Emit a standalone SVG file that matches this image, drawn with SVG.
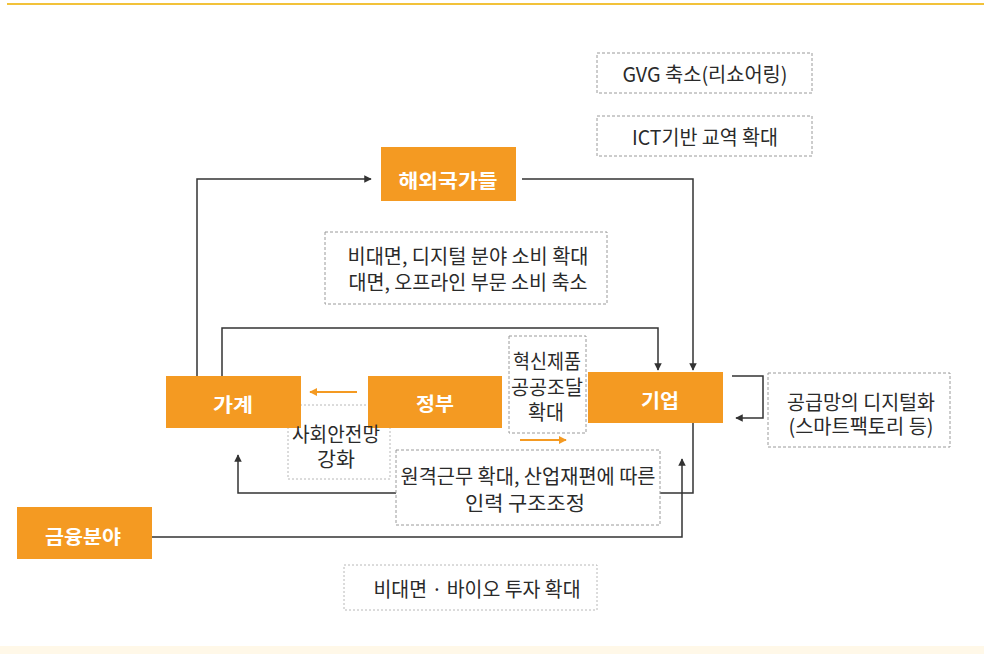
<svg xmlns="http://www.w3.org/2000/svg" width="984" height="654" viewBox="0 0 984 654">
  <style>
    .node rect { fill: #F49A22; }
    .node text { fill: #FFFFFF; font-family: "Noto Sans CJK KR", "Noto Sans", sans-serif; font-size: 19px; font-weight: bold; text-anchor: middle; dominant-baseline: central; }
    .box { fill: #FFFFFF; stroke: #9A9A9A; stroke-width: 1; stroke-dasharray: 3 2; }
    .box-light { fill: #FFFFFF; stroke: #B8B8B8; stroke-width: 1; stroke-dasharray: 2 2; }
    .lbl { fill: #2A2A2A; font-family: "Noto Sans CJK KR", "Noto Sans", sans-serif; font-size: 20px; text-anchor: middle; dominant-baseline: central; }
    .conn { fill: none; stroke: #333333; stroke-width: 1.5; }
    .conn-o { fill: none; stroke: #F49A22; stroke-width: 2; }
  </style>
  <defs>
    <marker id="ah" viewBox="0 0 10 10" refX="9" refY="5" markerWidth="5" markerHeight="5" orient="auto" markerUnits="strokeWidth">
      <path d="M0,0 L10,5 L0,10 z" fill="#333333"/>
    </marker>
    <marker id="aho" viewBox="0 0 10 10" refX="9" refY="5" markerWidth="4" markerHeight="4" orient="auto" markerUnits="strokeWidth">
      <path d="M0,0 L10,5 L0,10 z" fill="#F49A22"/>
    </marker>
  </defs>

  <rect x="0" y="0" width="984" height="654" fill="#FFFFFF"/>
  <line x1="7" y1="4" x2="984" y2="4" stroke="#F2C23A" stroke-width="2"/>
  <rect x="0" y="646" width="984" height="8" fill="#FFF8E8"/>

  <!-- background label box (social safety net) -->
  <g id="box-safety">
    <rect class="box-light" x="288" y="405" width="102" height="74"/>
  </g>

  <!-- connectors -->
  <g id="connectors">
    <path class="conn" d="M197,376 V179 H371" marker-end="url(#ah)"/>
    <path class="conn" d="M522,179 H693 V370" marker-end="url(#ah)"/>
    <path class="conn" d="M222,376 V328 H658 V370" marker-end="url(#ah)"/>
    <path class="conn" d="M732,376 H763 V418 H736" marker-end="url(#ah)"/>
    <path class="conn" d="M693,423 V493 H238 V455" marker-end="url(#ah)"/>
    <path class="conn" d="M151,537 H682 V459" marker-end="url(#ah)"/>
    <path class="conn-o" d="M357,392 H310" marker-end="url(#aho)"/>
    <path class="conn-o" d="M520,440 H566" marker-end="url(#aho)"/>
  </g>

  <!-- nodes -->
  <g id="node-overseas" class="node">
    <rect x="381" y="147" width="135" height="54"/>
    <text x="448" y="179" textLength="99" lengthAdjust="spacingAndGlyphs">해외국가들</text>
  </g>
  <g id="node-household" class="node">
    <rect x="166" y="376" width="135" height="52"/>
    <text x="233" y="403" textLength="40" lengthAdjust="spacingAndGlyphs">가계</text>
  </g>
  <g id="node-government" class="node">
    <rect x="368" y="376" width="134" height="52"/>
    <text x="435" y="402" textLength="38" lengthAdjust="spacingAndGlyphs">정부</text>
  </g>
  <g id="node-firm" class="node">
    <rect x="588" y="372" width="135" height="51"/>
    <text x="660" y="399" textLength="38" lengthAdjust="spacingAndGlyphs">기업</text>
  </g>
  <g id="node-finance" class="node">
    <rect x="17" y="507" width="135" height="52"/>
    <text x="83" y="535" textLength="76" lengthAdjust="spacingAndGlyphs">금융분야</text>
  </g>

  <!-- label boxes -->
  <g id="box-gvg">
    <rect class="box" x="597" y="53" width="215" height="40"/>
    <text class="lbl" x="705" y="73" textLength="165" lengthAdjust="spacingAndGlyphs">GVG 축소(리쇼어링)</text>
  </g>
  <g id="box-ict">
    <rect class="box" x="597" y="116" width="215" height="40"/>
    <text class="lbl" x="705" y="136" textLength="146" lengthAdjust="spacingAndGlyphs">ICT기반 교역 확대</text>
  </g>
  <g id="box-consumption">
    <rect class="box" x="325" y="232" width="282" height="72"/>
    <text class="lbl" x="468" y="255" textLength="241" lengthAdjust="spacingAndGlyphs">비대면, 디지털 분야 소비 확대</text>
    <text class="lbl" x="468" y="281" textLength="239" lengthAdjust="spacingAndGlyphs">대면, 오프라인 부문 소비 축소</text>
  </g>
  <g id="box-procurement">
    <rect class="box" x="509" y="336" width="77" height="97"/>
    <text class="lbl" x="547" y="360" textLength="68" lengthAdjust="spacingAndGlyphs">혁신제품</text>
    <text class="lbl" x="547" y="386" textLength="72" lengthAdjust="spacingAndGlyphs">공공조달</text>
    <text class="lbl" x="546" y="411" textLength="36" lengthAdjust="spacingAndGlyphs">확대</text>
  </g>
  <g id="box-supply">
    <rect class="box" x="768" y="373" width="182" height="74"/>
    <text class="lbl" x="861" y="401" textLength="148" lengthAdjust="spacingAndGlyphs">공급망의 디지털화</text>
    <text class="lbl" x="861" y="425" textLength="145" lengthAdjust="spacingAndGlyphs">(스마트팩토리 등)</text>
  </g>
  <g id="box-safety-text">
    <text class="lbl" x="336" y="433" textLength="88" lengthAdjust="spacingAndGlyphs">사회안전망</text>
    <text class="lbl" x="336" y="458" textLength="38" lengthAdjust="spacingAndGlyphs">강화</text>
  </g>
  <g id="box-remote">
    <rect class="box" x="396" y="450" width="264" height="75"/>
    <text class="lbl" x="528" y="475" textLength="255" lengthAdjust="spacingAndGlyphs">원격근무 확대, 산업재편에 따른</text>
    <text class="lbl" x="525" y="502" textLength="120" lengthAdjust="spacingAndGlyphs">인력 구조조정</text>
  </g>
  <g id="box-invest">
    <rect class="box-light" x="344" y="565" width="253" height="45"/>
    <text class="lbl" x="477" y="588" textLength="207" lengthAdjust="spacingAndGlyphs">비대면 · 바이오 투자 확대</text>
  </g>
</svg>
